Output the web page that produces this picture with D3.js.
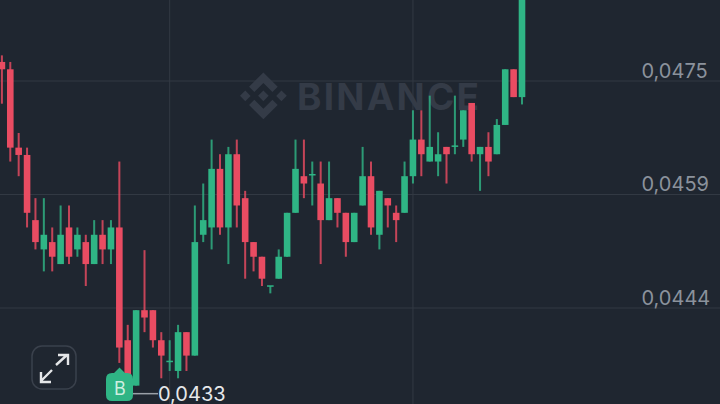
<!DOCTYPE html>
<html><head><meta charset="utf-8">
<script src="https://cdn.jsdelivr.net/npm/d3@7/dist/d3.min.js"></script>
<style>html,body{margin:0;padding:0;background:#1f2630;overflow:hidden}svg{display:block}text{font-family:Inter,Roboto,sans-serif}</style>
</head><body><svg id="c" width="720" height="404"></svg>
<script>
const open=[.04776,.04766,.04659,.04649,.0456,.0452,.0453,.045,.0455,.0452,.0453,.045,.0454,.0452,.0455,.04396,.04334,.04437,.04437,.04396,.04367,.04354,.04407,.04375,.0454,.0455,.0463,.0455,.0465,.0459,.0453,.0451,.0447,.0448,.0451,.0457,.0462,.04622,.0461,.0456,.0459,.0457,.0453,.0458,.0462,.0454,.0459,.0457,.0457,.0462,.0467,.0464,.0464,.0466,.04661,.0467,.0472,.0465,.0466,.0465,.0469,.04766,.04728];
const close=[.04766,.04659,.04649,.0457,.0453,.0454,.0451,.0454,.0451,.0454,.045,.0454,.0452,.0455,.04386,.04346,.04437,.04427,.04396,.04375,.04367,.04407,.04375,.0453,.0456,.0463,.0455,.0465,.0458,.0453,.0451,.0448,.0447,.0451,.0457,.0463,.0461,.04622,.0456,.0459,.0457,.0453,.0457,.0462,.0455,.046,.0458,.0456,.0462,.0467,.0465,.0466,.0465,.0465,.04661,.0471,.0465,.0466,.0464,.0469,.04766,.04728,.0488];
const high=[.04785,.04776,.04679,.04659,.0459,.0459,.0455,.0458,.0458,.0455,.0454,.0456,.0456,.0456,.0464,.04417,.04437,.04519,.04437,.04407,.04396,.04417,.04407,.0458,.0461,.0467,.0465,.0466,.0467,.046,.0453,.0451,.0447,.0452,.0457,.0467,.0467,.0464,.0464,.0464,.0459,.0457,.0457,.0466,.0464,.046,.0459,.0458,.0464,.0471,.0471,.0473,.0468,.0466,.0473,.0471,.0472,.0466,.0468,.04698,.04766,.04766,.049];
const low=[.04719,.0464,.0462,.0455,.0452,.0449,.0449,.045,.045,.0451,.0447,.045,.045,.045,.04365,.04335,.04334,.04407,.04386,.04344,.04354,.04344,.04354,.04375,.0453,.0452,.0454,.045,.0455,.0448,.0449,.0447,.0446,.0448,.0451,.0457,.0459,.0458,.045,.0456,.0455,.0451,.0453,.0458,.0454,.0452,.0455,.0453,.0457,.0461,.0462,.0464,.0462,.0461,.0465,.0466,.0464,.046,.0462,.0465,.0469,.04728,.04718];
const tickValues=[0.0475,0.04595,0.0444];
const tickLabels=["0,0475","0,0459","0,0444"];
const lastPrice=0.04323, lastPriceLabel="0,0433", markerLabel="B", watermark="BINANCE";
const verticalGridIdx=[20,49];
const up="#2fb585", down="#e94c62";

const svg=d3.select("#c");
const W=720,H=404;
svg.append("rect").attr("width",W).attr("height",H).attr("fill","#1f2630");
const x=d3.scaleLinear().domain([0,62]).range([1.9,522]);
const y=d3.scaleLinear().domain([0.0444,0.0475]).range([308,81]);

// grid
svg.selectAll("line.h").data(tickValues).join("line").attr("class","h")
  .attr("x1",0).attr("x2",W).attr("y1",d=>y(d)).attr("y2",d=>y(d)).attr("stroke","#323943").attr("stroke-width",1);
svg.selectAll("line.v").data(verticalGridIdx).join("line").attr("class","v")
  .attr("x1",d=>x(d)).attr("x2",d=>x(d)).attr("y1",0).attr("y2",H).attr("stroke","#323943").attr("stroke-width",1);

// watermark
svg.append("path")
  .attr("d","M16.624 13.92l2.717 2.72-7.353 7.353-7.352-7.352 2.717-2.72 4.636 4.66 4.635-4.66zm4.637-4.66L24 11.98l-2.738 2.76-2.717-2.72 2.717-2.76zm-9.273 0l2.718 2.72-2.718 2.76-2.717-2.76 2.717-2.72zm-9.273 0l2.717 2.74-2.737 2.76L0 11.98l2.715-2.72zm9.273-9.26l7.353 7.33-2.717 2.72-4.636-4.64-4.635 4.64-2.717-2.72L11.988 0z")
  .attr("fill","#343b47").attr("transform","translate(240,72.5) scale(1.95)");
svg.append("text").text(watermark).attr("x",297).attr("y",110).attr("fill","#343b47")
  .attr("font-size",37).attr("font-weight",700).attr("textLength",182).attr("lengthAdjust","spacing");

// candles
const data=open.map((o,i)=>({i,o,c:close[i],h:high[i],l:low[i]}));
const g=svg.selectAll("g.k").data(data).join("g").attr("class","k");
const col=d=>d.c>=d.o?up:down;
g.append("rect").attr("x",d=>x(d.i)-1).attr("width",2)
  .attr("y",d=>y(d.h)).attr("height",d=>y(d.l)-y(d.h)).attr("fill",col).attr("opacity",.82);
g.append("rect").attr("x",d=>x(d.i)-3.3).attr("width",6.6)
  .attr("y",d=>y(Math.max(d.o,d.c))-(d.o===d.c?.75:0))
  .attr("height",d=>Math.max(1.5,Math.abs(y(d.o)-y(d.c)))).attr("fill",col);

// price axis
const axis=d3.axisRight(y).tickValues(tickValues).tickSize(0).tickFormat((d,i)=>tickLabels[i]);
const ag=svg.append("g").attr("transform","translate(641.5,-11)").call(axis);
ag.select(".domain").remove();
ag.selectAll("text").attr("x",0).attr("dy",".36em").attr("fill","#8b929c").attr("font-size",20).style("font-family","Inter,Roboto,sans-serif");

// buy marker and low label
const py=y(lastPrice);
svg.append("line").attr("x1",132).attr("x2",158).attr("y1",py).attr("y2",py).attr("stroke","#9aa0a8").attr("stroke-width",1.5);
svg.append("path").attr("d","M112 373H114L119.5 367.5L125 373H127Q133 373 133 379V395Q133 401 127 401H112Q106 401 106 395V379Q106 373 112 373Z").attr("fill","#2fb585");
svg.append("text").text(markerLabel).attr("x",120).attr("y",394.5).attr("text-anchor","middle").attr("fill","#cdeee0").attr("font-size",18);
svg.append("text").text(lastPriceLabel).attr("x",158).attr("y",401).attr("fill","#e6e8ea").attr("font-size",20);

// expand button
svg.append("rect").attr("x",32).attr("y",346).attr("width",44).attr("height",43).attr("rx",10).attr("fill","none").attr("stroke","#3a414c").attr("stroke-width",1.5);
svg.append("path").attr("d","M56 365L67 355M58 355H68V365M52 370L41 381M41 372V382H51").attr("fill","none").attr("stroke","#e4e6e8").attr("stroke-width",2.4);
</script></body></html>
